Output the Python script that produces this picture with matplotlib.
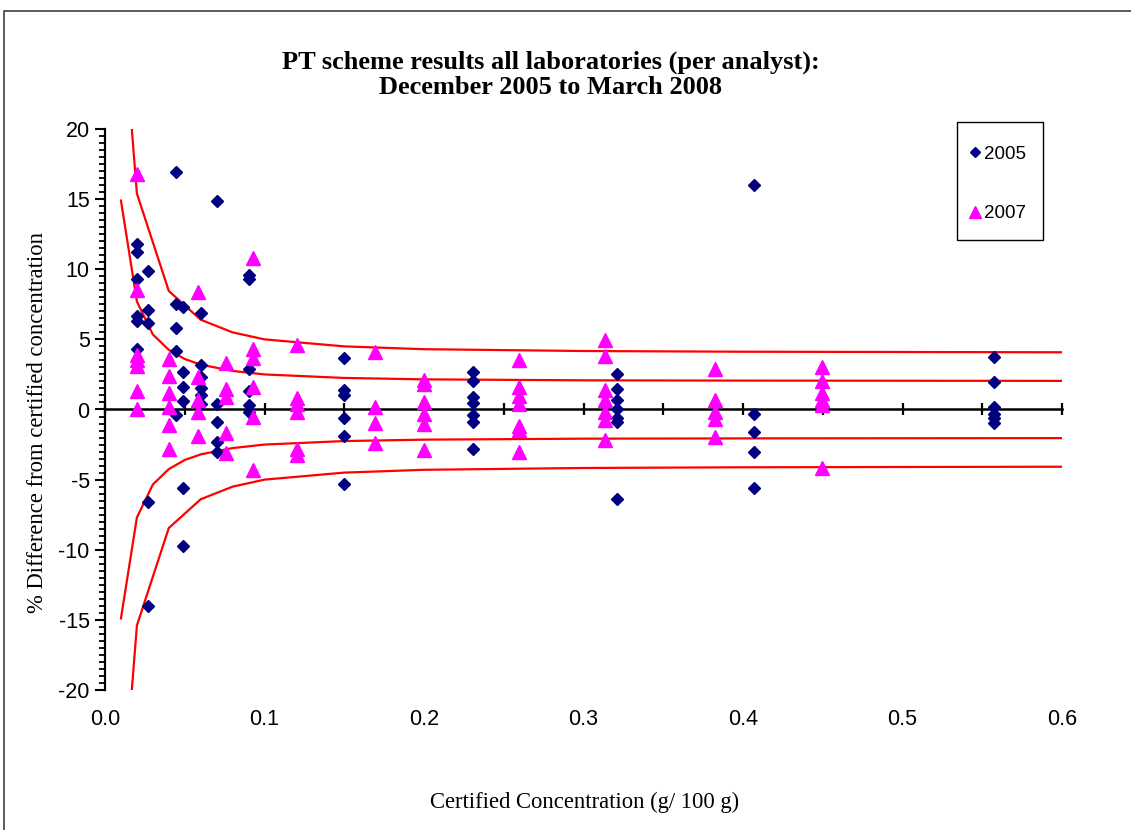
import numpy as np
import matplotlib
matplotlib.use('Agg')
import matplotlib.pyplot as plt
from matplotlib.patches import Rectangle
from matplotlib.ticker import MultipleLocator

plt.rcParams['font.family'] = 'Liberation Sans'
plt.rcParams['axes.unicode_minus'] = False

#2005 round: certified concentration (g/100 g) and % difference per analyst
conc_2005 = [0.020, 0.0268, 0.0445, 0.0486, 0.0602, 0.0704, 0.0902,
             0.150, 0.2305, 0.321, 0.4067, 0.5576]
diff_2005 = [[11.8, 11.2, 9.3, 6.7, 6.3, 4.3],
             [9.9, 7.1, 6.2, -6.6, -14.0],
             [16.9, 7.5, 5.8, 4.15, -0.4],
             [7.3, 2.7, 1.6, 0.6, -5.6, -9.7],
             [6.9, 3.15, 2.35, 1.5, 1.05, 0.4],
             [14.9, 0.4, -0.9, -2.3, -3.0],
             [9.6, 9.3, 2.9, 1.3, 0.3, -0.2],
             [3.7, 1.4, 1.0, -0.6, -1.9, -5.3],
             [2.7, 2.0, 0.9, 0.45, -0.4, -0.9, -2.8],
             [2.5, 1.45, 0.7, 0.0, -0.6, -0.9, -6.4],
             [16.0, -0.3, -1.6, -3.0, -5.6],
             [3.75, 1.95, 0.15, -0.3, -0.6, -0.95]]

#2007 round
conc_2007 = [0.020, 0.040, 0.0582, 0.0761, 0.0927, 0.1206, 0.169,
             0.200, 0.2596, 0.3137, 0.3824, 0.4493]
diff_2007 = [[16.8, 8.5, 3.9, 3.5, 3.1, 1.3, 0.0],
             [3.6, 2.4, 1.15, 0.15, -1.1, -2.8],
             [8.35, 2.35, 0.65, -0.15, -1.9],
             [3.3, 1.45, 0.9, -1.65, -3.1],
             [10.8, 4.3, 3.7, 1.6, -0.5, -4.3],
             [4.6, 0.85, 0.4, -0.15, -2.8, -3.25],
             [4.1, 0.2, -0.95, -2.4],
             [2.1, 1.8, 0.55, -0.3, -1.0, -2.9],
             [3.55, 1.6, 0.95, 0.4, -1.15, -1.45, -3.0],
             [4.95, 3.8, 1.4, 0.7, -0.15, -0.75, -2.15],
             [2.9, 0.7, -0.15, -0.7, -1.95],
             [3.0, 2.0, 1.15, 0.7, 0.35, -4.2]]

#acceptance limit curves (symmetric about zero)
inner_conc = [0.01, 0.02, 0.03, 0.04, 0.05, 0.06, 0.08, 0.10, 0.15, 0.20, 0.30, 0.40, 0.50, 0.60]
inner_lim = [14.9, 7.7, 5.35, 4.25, 3.6, 3.2, 2.75, 2.5, 2.25, 2.15, 2.08, 2.06, 2.05, 2.04]
outer_conc = [0.01, 0.02, 0.04, 0.06, 0.08, 0.10, 0.15, 0.20, 0.30, 0.40, 0.50, 0.60]
outer_lim = [29.8, 15.4, 8.45, 6.4, 5.5, 5.0, 4.5, 4.3, 4.17, 4.12, 4.1, 4.08]

years = ['2005', '2007']
xtick_vals = [0.0, 0.1, 0.2, 0.3, 0.4, 0.5, 0.6]
xtick_labels = ['0.0', '0.1', '0.2', '0.3', '0.4', '0.5', '0.6']
ytick_vals = [-20, -15, -10, -5, 0, 5, 10, 15, 20]
ytick_labels = ['-20', '-15', '-10', '-5', '0', '5', '10', '15', '20']


#flatten grouped results into x/y lists
def expand(conc, diffs):
    x = []
    y = []
    for c, d in zip(conc, diffs):
        x += [c] * len(d)
        y += d
    return x, y


fig = plt.figure(figsize=(11.31, 8.30), dpi=100)
W, H = 1131, 830
ax = fig.add_axes([105 / W, 1 - 690 / H, (1062 - 105) / W, (690 - 129) / H])

#limit curves
for lc, lim in [(inner_conc, inner_lim), (outer_conc, outer_lim)]:
    ax.plot(lc, lim, color='#FF0000', lw=1.6, zorder=2)
    ax.plot(lc, -np.array(lim), color='#FF0000', lw=1.6, zorder=2)

#results
x05, y05 = expand(conc_2005, diff_2005)
x07, y07 = expand(conc_2007, diff_2007)
ax.plot(x05, y05, 'D', color='#000080', ms=6.4, ls='none', label=years[0], zorder=3)
ax.plot(x07, y07, '^', color='#FF00FF', ms=10, ls='none', label=years[1], zorder=4)

ax.set_xlim(0, 0.6)
ax.set_ylim(-20, 20)

#axes styling (excel look)
ax.spines['top'].set_visible(False)
ax.spines['right'].set_visible(False)
ax.spines['bottom'].set_position(('data', 0))
ax.spines['bottom'].set_linewidth(1.8)
ax.spines['bottom'].set_zorder(1)
ax.spines['left'].set_linewidth(1.6)

ax.xaxis.set_major_locator(MultipleLocator(0.05))
ax.tick_params(axis='x', direction='inout', length=9, width=1.6, labelbottom=False)
ax.set_yticks(ytick_vals)
ax.set_yticklabels(ytick_labels)
ax.yaxis.set_minor_locator(MultipleLocator(0.5))
ax.tick_params(axis='y', which='major', direction='out', length=7, width=1.5,
               labelsize=15.5, pad=4)
ax.tick_params(axis='y', which='minor', direction='out', length=4.5, width=1.3)

#x tick labels sit below the plot, not on the zero line
sec = ax.secondary_xaxis('bottom')
sec.set_xticks(xtick_vals)
sec.set_xticklabels(xtick_labels)
sec.tick_params(length=0, labelsize=15.5, pad=13.5)
sec.spines['bottom'].set_visible(False)

#texts
fig.text(550.5 / W, 1 - 62 / H, 'PT scheme results all laboratories (per analyst):',
         ha='center', va='center', family='Liberation Serif', fontweight='bold', fontsize=19)
fig.text(550.5 / W, 1 - 88 / H, 'December 2005 to March 2008',
         ha='center', va='center', family='Liberation Serif', fontweight='bold', fontsize=19)
fig.text(585 / W, 1 - 802 / H, 'Certified Concentration (g/ 100 g)',
         ha='center', va='center', family='Liberation Serif', fontsize=16.3)
fig.text(38 / W, 1 - 422 / H, '% Difference from certified concentration',
         ha='center', va='center', rotation=90, family='Liberation Serif', fontsize=16.3)

#legend: entries without frame, frame drawn as its own box
leg = ax.legend(loc='center', bbox_to_anchor=(997 / W, 1 - 184 / H),
                bbox_transform=fig.transFigure, frameon=False, fontsize=13.5,
                labelspacing=2.25, borderpad=0, handlelength=0.8, handletextpad=0.1,
                markerscale=0.85)
fig.add_artist(Rectangle((957 / W, 1 - 240 / H), 86 / W, 118 / H, transform=fig.transFigure,
                         fill=False, ec='black', lw=1.0))

#chart area border
fig.add_artist(Rectangle((4 / W, -0.05), 1.2, 1 - 11 / H + 0.05, transform=fig.transFigure,
                         fill=False, ec='#404040', lw=1.2))

fig.savefig('out.png', dpi=100)
